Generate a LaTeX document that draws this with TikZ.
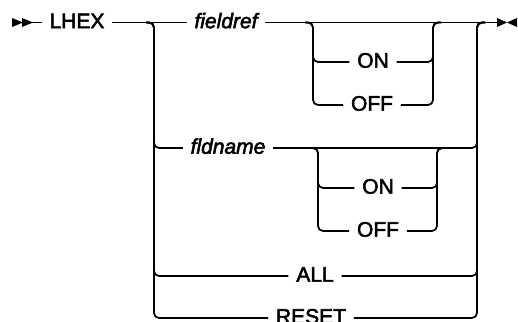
\documentclass[tikz,border=0pt]{standalone}
\usepackage{fontspec}
\setmainfont[FakeBold=2.5]{Liberation Sans}
\begin{document}
\begin{tikzpicture}[x=1pt,y=-1pt,line width=1.7pt,
  kw/.style={inner xsep=7pt,inner ysep=0pt,text height=15pt,text depth=3.6pt,
    font=\fontsize{21}{25}\selectfont},
  var/.style={kw,font=\fontsize{21}{25}\selectfont\itshape},
  rail/.style={rounded corners=5pt}]

  \def\ya{22.5}
  \def\yb{62}
  \def\yc{105}
  \def\yd{148}
  \def\ye{188}
  \def\yf{231}
  \def\yg{276}
  \def\yh{318}
  \useasboundingbox (0,0) rectangle (518,321);

  % labels
  \node[kw] (lhex) at (77,\ya) {LHEX};
  \node[var] (fieldref) at (226,\ya) {fieldref};
  \node[kw] (on1) at (373,\yb) {ON};
  \node[kw] (off1) at (372,\yc) {OFF};
  \node[var] (fldname) at (228,\yd) {fldname};
  \node[kw] (on2) at (378,\ye) {ON};
  \node[kw] (off2) at (378,\yf) {OFF};
  \node[kw] (all) at (315,\yg) {ALL};
  \node[kw] (reset) at (311,\yh) {RESET};

  % branch points
  \coordinate (start) at (12,\ya);
  \coordinate (split) at (154,\ya);
  \coordinate (join) at (477,\ya);
  \coordinate (stop) at (497,\ya);
  \coordinate (opt1in) at (313,\ya);
  \coordinate (opt1out) at (433,\ya);
  \coordinate (opt2in) at (318,\yd);
  \coordinate (opt2out) at (437,\yd);

  % main line
  \draw (start) -- (lhex);
  \draw (lhex) -- (fieldref);
  \draw (fieldref) -- (stop);

  \foreach \n in {fldname,all,reset}{
    \draw[rail] ([xshift=-8pt]split) -| (split |- \n) -- (\n);
    \draw[rail] (\n) -| (join) -- ([xshift=8pt]join);
  }
  \foreach \n in {on1,off1}{
    \draw[rail] ([xshift=-8pt]opt1in) -| (opt1in |- \n) -- (\n);
    \draw[rail] (\n) -| (opt1out) -- ([xshift=8pt]opt1out);
  }
  \foreach \n in {on2,off2}{
    \draw[rail] ([xshift=-8pt]opt2in) -| (opt2in |- \n) -- (\n);
    \draw[rail] (\n) -| (opt2out) -- ([xshift=8pt]opt2out);
  }

  % start and end marks
  \fill (start) ++(0,-4.5) -- ++(11,4.5) -- ++(-11,4.5) -- cycle;
  \fill ([xshift=10pt]start) ++(0,-4.5) -- ++(11,4.5) -- ++(-11,4.5) -- cycle;
  \fill (stop) ++(0,-4.5) -- ++(10,4.5) -- ++(-10,4.5) -- cycle;
  \fill ([xshift=20pt]stop) ++(0,-4.5) -- ++(-10,4.5) -- ++(10,4.5) -- cycle;
\end{tikzpicture}
\end{document}
